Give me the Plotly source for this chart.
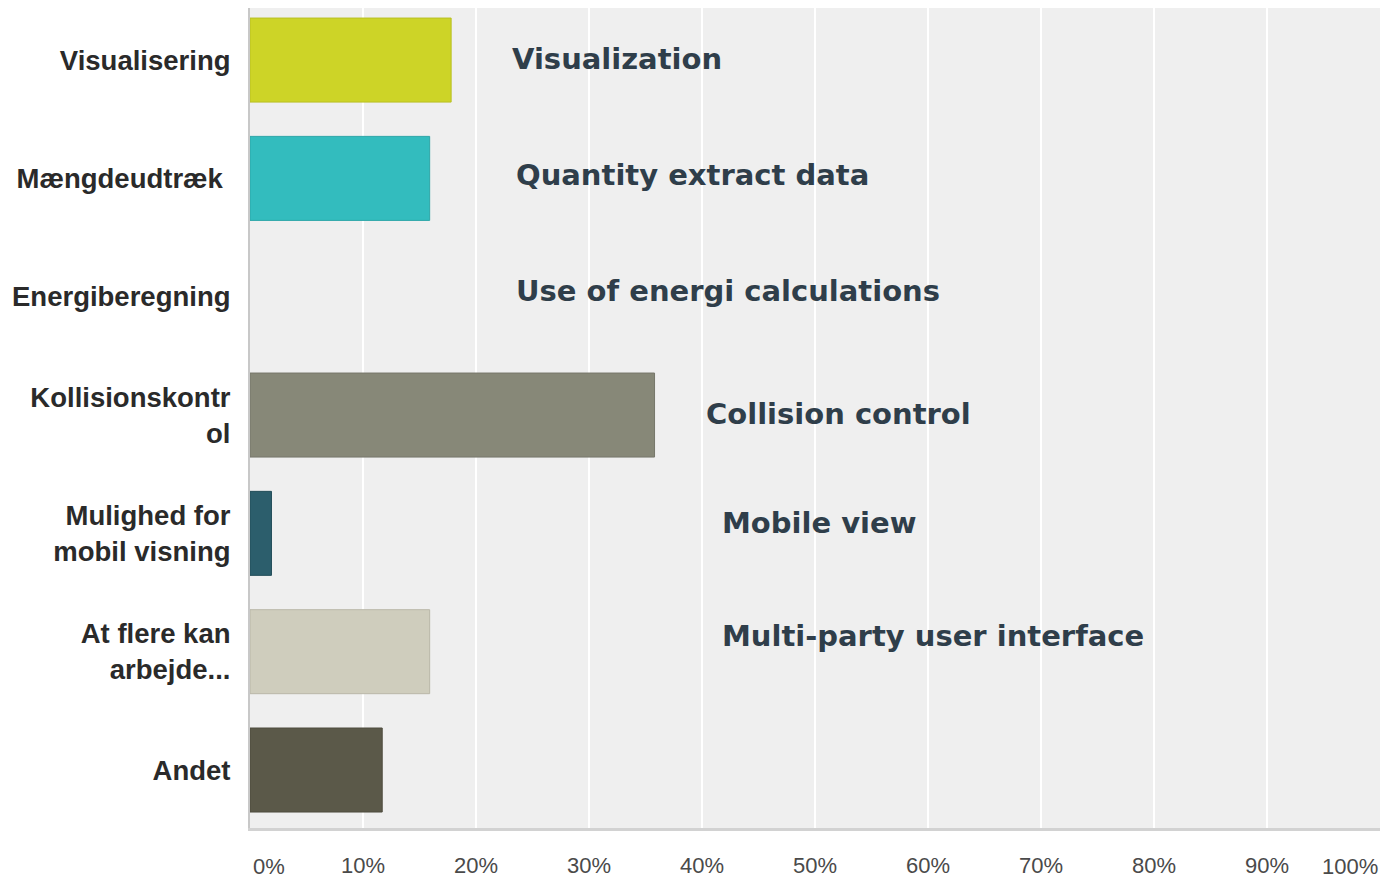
import plotly.graph_objects as go

categories = ["Visualisering", "Mængdeudtræk ", "Energiberegning", "Kollisionskontr<br>ol",
              "Mulighed for<br>mobil visning", "At flere kan<br>arbejde...", "Andet"]
values = [17.8, 15.9, 0.0, 35.8, 1.9, 15.9, 11.7]
colors = ["#CDD427", "#33BCBE", "#B5B5A5", "#878878", "#2C5E6C", "#CFCDBD", "#5B5949"]
edge_colors = ["#B9BF22", "#2CA6A8", "#A0A090", "#76776A", "#234E5A", "#B9B7A8", "#4E4C3E"]

notes = ["Visualization", "Quantity extract data", "Use of energi calculations",
         "Collision control", "Mobile view", "Multi-party user interface"]
note_x = [23.0, 23.4, 23.4, 40.2, 41.6, 41.6]
note_cat = [0, 1, 2, 3, 4, 5]
note_shift = [1, 3, 6, 1, 10, 16]

xticks = list(range(0, 101, 10))
xticklabels = [f"{v}%" for v in xticks]

tickfont = dict(family="Liberation Sans", size=22, color="#4A4A4A")

fig = go.Figure()
fig.add_trace(go.Bar(
    x=values, y=list(range(len(categories))), orientation="h",
    marker=dict(color=colors,
                line=dict(color=edge_colors, width=[1 if v > 0 else 0 for v in values])),
    width=0.71, hoverinfo="skip",
))

for t, xv, c, s in zip(notes, note_x, note_cat, note_shift):
    fig.add_annotation(x=xv, y=c, xref="x", yref="y", text=t, showarrow=False,
                       xanchor="left", yanchor="middle", yshift=s,
                       font=dict(family="DejaVu Sans", size=29, color="#2F3E4A", weight="bold"))

# end labels (0% and 100%) are aligned inside the plot width like the reference
fig.add_annotation(x=xticks[0], y=0, xref="x", yref="paper", text=xticklabels[0],
                   showarrow=False, xanchor="left", yanchor="middle", yshift=-38, xshift=1,
                   font=tickfont)
fig.add_annotation(x=xticks[-1], y=0, xref="x", yref="paper", text=xticklabels[-1],
                   showarrow=False, xanchor="right", yanchor="middle", yshift=-38, xshift=0,
                   font=tickfont)

# page body has an 8px default margin: keep figure within the viewport
fig.update_layout(
    width=1372, height=871,
    margin=dict(l=242, r=0, t=0, b=51, autoexpand=False),
    paper_bgcolor="white", plot_bgcolor="#EFEFEF",
    showlegend=False,
    xaxis=dict(range=[0, 100], tickvals=xticks[1:-1], ticktext=xticklabels[1:-1],
               showgrid=True, gridcolor="white", gridwidth=2, zeroline=False,
               showline=True, linecolor="#D2D2D2", linewidth=3,
               ticks="", ticklabelstandoff=16, tickfont=tickfont),
    yaxis=dict(range=[6.49, -0.44], tickvals=list(range(len(categories))), ticktext=categories,
               showgrid=False, zeroline=False, showline=True, linecolor="#C8C8C8", linewidth=2,
               ticks="", ticklabelstandoff=12,
               tickfont=dict(family="Liberation Sans", size=27.5, color="#2A2A2A", weight="bold")),
)

fig.write_html("out.html")
